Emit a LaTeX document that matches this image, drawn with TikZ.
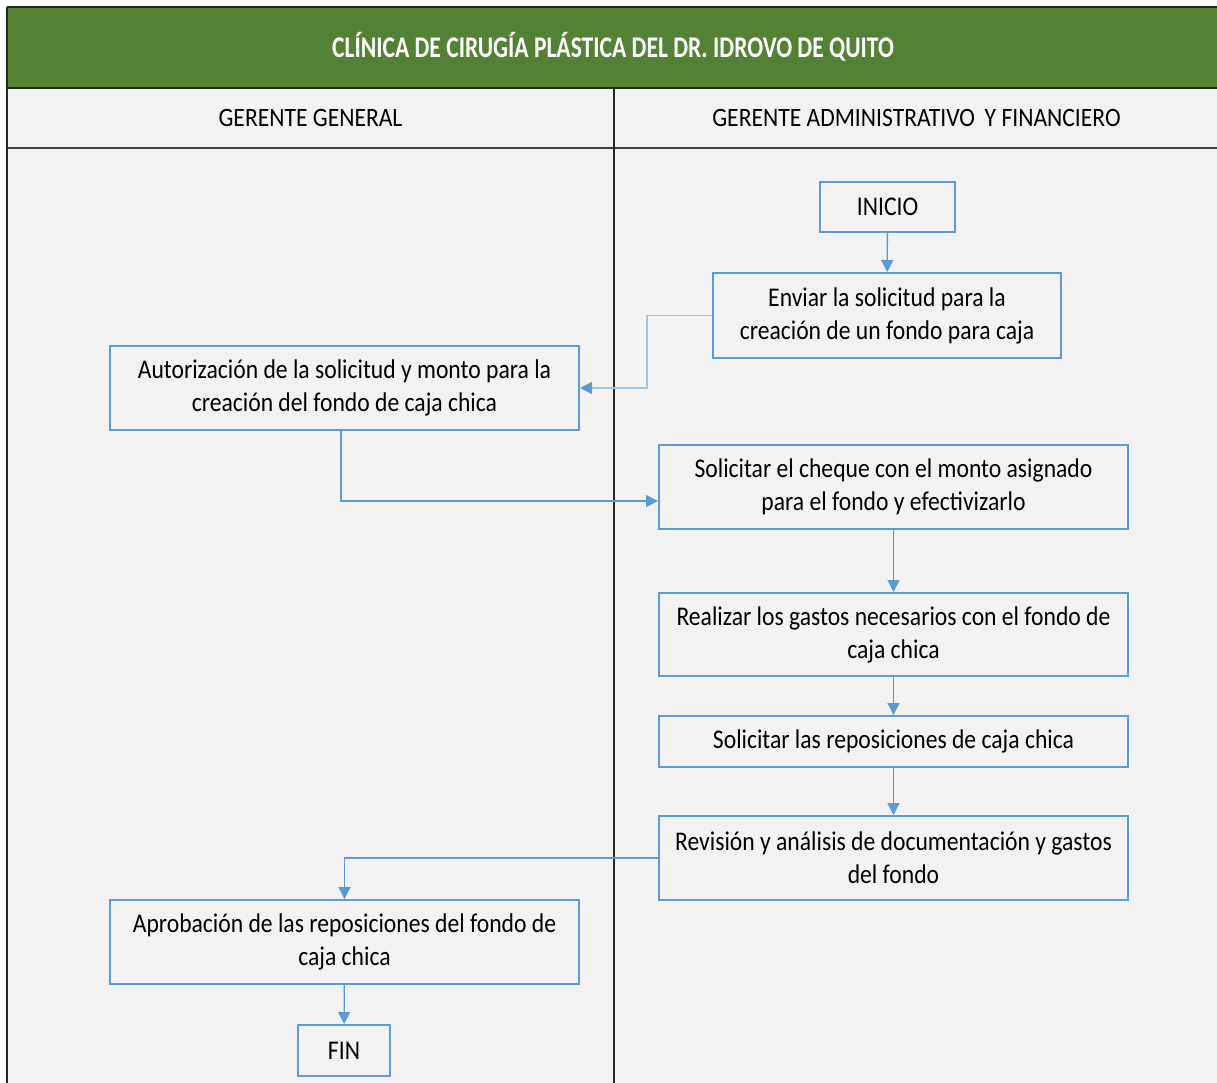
\documentclass[tikz,border=0pt]{standalone}
\usepackage{fontspec}
\setmainfont[FakeStretch=0.875]{Carlito}
\newfontfamily\titlefont[FakeStretch=0.785]{Carlito}
\newfontfamily\headfont[FakeStretch=0.89]{Carlito}
\usetikzlibrary{arrows.meta}
\definecolor{panelgray}{HTML}{F2F2F2}
\definecolor{titlegreen}{HTML}{548235}
\definecolor{flowblue}{HTML}{5B9BD5}
\definecolor{flowlight}{HTML}{9DC3E6}
\tikzset{
  stepbox/.style={draw=flowblue, line width=2pt, fill=panelgray, inner sep=0pt,
    align=center, font=\fontsize{27}{33}\selectfont},
  flow/.style={draw=flowblue, line width=1.3pt, -{Triangle[length=12pt,width=12pt]}},
  flowpale/.style={draw=flowlight, line width=1.6pt, -{Triangle[length=12pt,width=12pt,color=flowblue]}},
  rule/.style={draw=black!85, line width=2pt},
  lanehead/.style={font=\headfont\fontsize{26.5}{30}\selectfont},
}
\begin{document}
\begin{tikzpicture}[x=1pt,y=-1pt]
\useasboundingbox (0,0) rectangle (1217,1083);
\fill[white] (0,0) rectangle (1217,1083);
% pool background
\fill[panelgray] (7,88) rectangle (1217,1083);
% title band
\fill[titlegreen] (7,7) rectangle (1217,88);
\node[text=white, font=\titlefont\fontsize{30}{34}\selectfont\bfseries] (title) at (613,47) {CLÍNICA DE CIRUGÍA PLÁSTICA DEL DR. IDROVO DE QUITO};
% grid lines
\draw[rule] (7,7) -- (1217,7);
\draw[rule] (7,88) -- (1217,88);
\draw[rule, draw=black!75] (7,148) -- (1217,148);
\draw[rule] (7,7) -- (7,1083);
\draw[rule] (614,88) -- (614,1083);
% lane headers
\node[lanehead] (laneA) at (310.5,118) {GERENTE GENERAL};
\node[lanehead] (laneB) at (916.5,118) {GERENTE ADMINISTRATIVO \,Y FINANCIERO};
% process steps
\node[stepbox, minimum width=135pt, minimum height=50pt] (inicio) at (887.5,207) {INICIO};
\node[stepbox, minimum width=348pt, minimum height=85pt] (enviar) at (887,315.5) {Enviar la solicitud para la\\creación de un fondo para caja};
\node[stepbox, minimum width=469pt, minimum height=84pt] (autor) at (344.5,388) {Autorización de la solicitud y monto para la\\creación del fondo de caja chica};
\node[stepbox, minimum width=469pt, minimum height=84pt] (cheque) at (893.5,487) {Solicitar el cheque con el monto asignado\\para el fondo y efectivizarlo};
\node[stepbox, minimum width=469pt, minimum height=83pt] (gastos) at (893.5,634.5) {Realizar los gastos necesarios con el fondo de\\caja chica};
\node[stepbox, minimum width=469pt, minimum height=51pt] (repos) at (893.5,741.5) {Solicitar las reposiciones de caja chica};
\node[stepbox, minimum width=469pt, minimum height=84pt] (revis) at (893.5,858) {Revisión y análisis de documentación y gastos\\del fondo};
\node[stepbox, minimum width=469pt, minimum height=84pt] (aprob) at (344.5,942) {Aprobación de las reposiciones del fondo de\\caja chica};
\node[stepbox, minimum width=92pt, minimum height=51pt] (fin) at (344,1050.5) {FIN};
% connectors
\draw[flow] (inicio) -- (enviar);
\draw[flowpale] (enviar.west) -| (647,388) -- (autor.east);
\draw[flow] ([xshift=-3.5pt]autor.south) |- ([yshift=-14pt]cheque.west);
\draw[flow] (cheque) -- (gastos);
\draw[flow] (gastos) -- (repos);
\draw[flow] (repos) -- (revis);
\draw[flow] (revis.west) -| (aprob.north);
\draw[flow] (aprob) -- (fin);
\end{tikzpicture}
\end{document}
